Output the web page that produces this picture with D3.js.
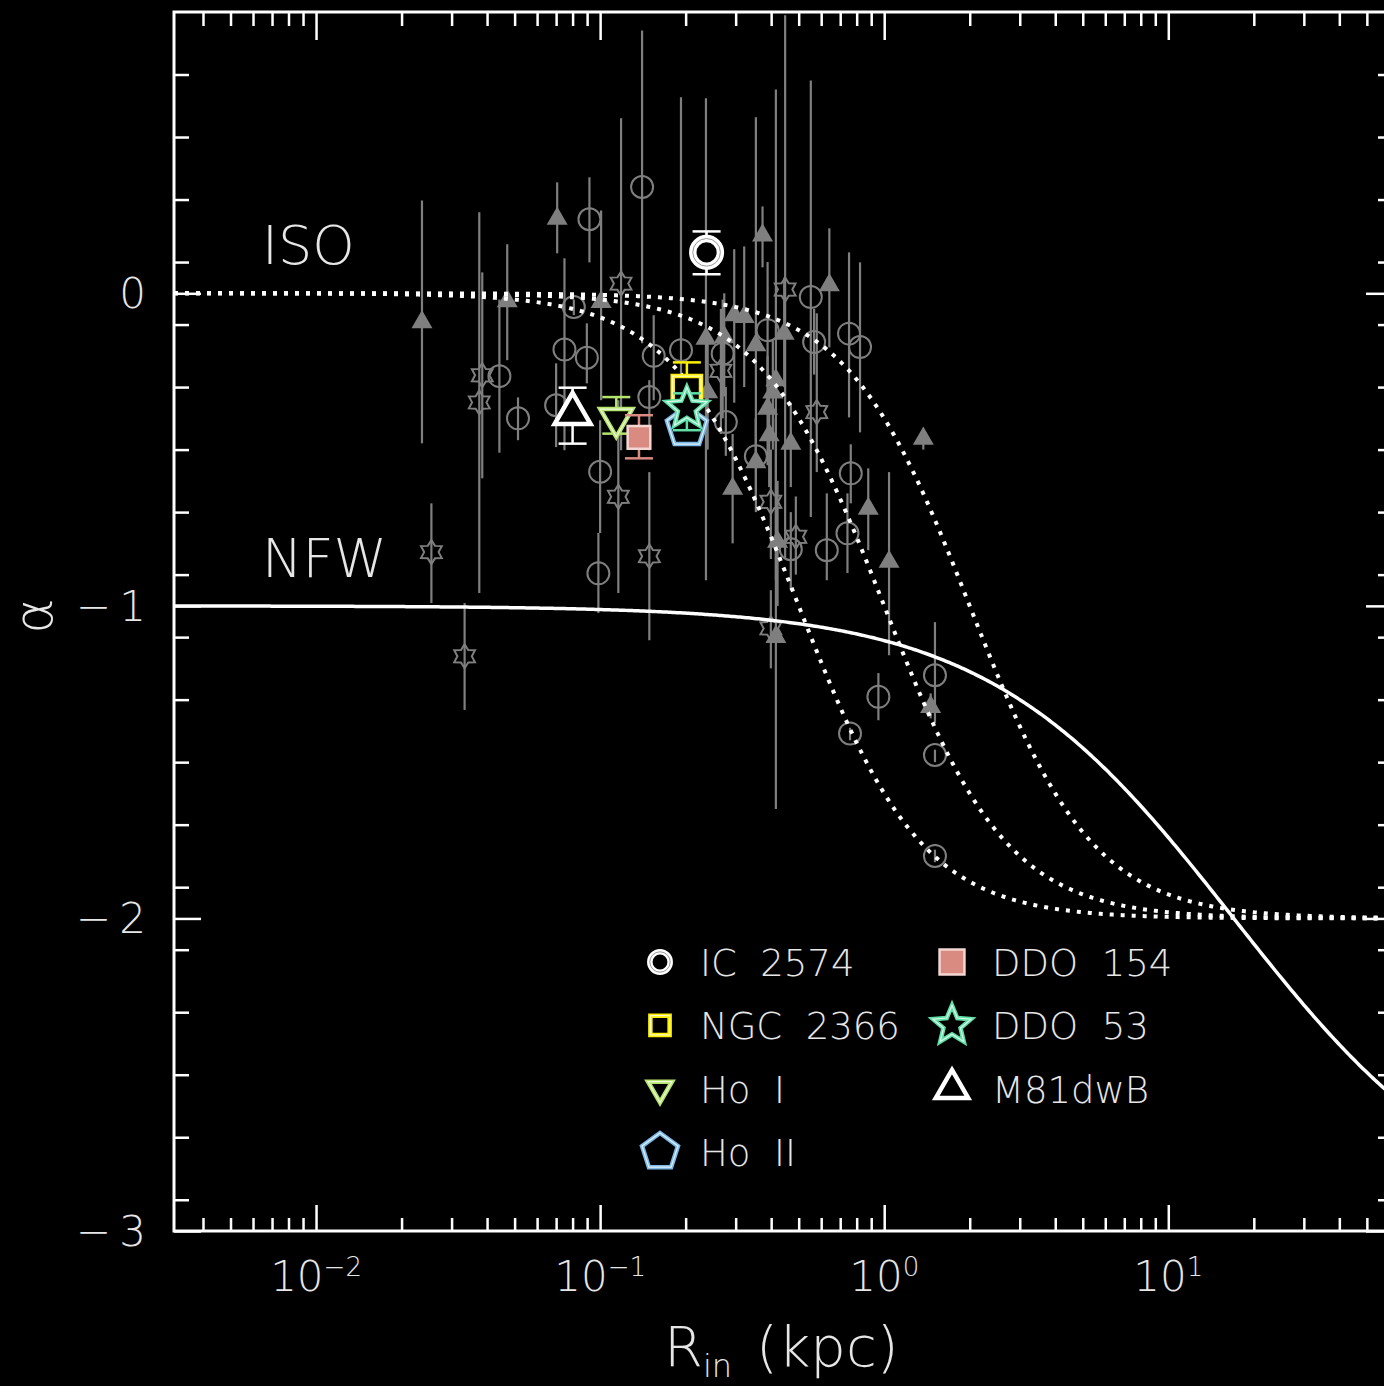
<!DOCTYPE html>
<html>
<head>
<meta charset="utf-8">
<script src="https://cdn.jsdelivr.net/npm/d3@7"></script>
<style>
  html, body { margin: 0; padding: 0; background: #000; }
  svg text { font-family: "DejaVu Sans", "Liberation Sans", sans-serif; font-weight: 200; fill: #e6e6e6; }
</style>
</head>
<body>
<div id="chart"></div>
<script>
// comparison sample, grey points: [R_in (kpc), alpha, bar top, bar bottom]
const greyCircles = [
    [0.0442, -0.265, -0.02, -0.51], [0.0514, -0.400, -0.333, -0.470], [0.0917, 0.237, 0.371, 0.099],
    [0.0808, -0.044, -0.02, -0.07], [0.0749, -0.180, 0.112, -0.502], [0.0898, -0.206, -0.096, -0.288],
    [0.0700, -0.358, -0.224, -0.492], [0.1405, 0.340, 0.841, -0.160], [0.1544, -0.200, -0.070, -0.342],
    [0.1926, -0.182, 0.627, -0.310], [0.149, -0.332, -0.278, -0.502], [0.100, -0.571, -0.406, -0.767],
    [0.0986, -0.896, -0.767, -1.023], [0.270, -0.193, -0.02, -0.40], [0.277, -0.412, -0.30, -0.52],
    [0.3886, -0.118, 0.10, -0.30], [0.5666, -0.156, -0.05, -0.26], [0.5516, -0.012, 0.681, -0.716],
    [0.752, -0.129, 0.131, -0.397], [0.822, -0.172, 0.099, -0.445], [0.3534, -0.521, -0.40, -0.65],
    [0.7626, -0.576, -0.483, -0.672], [0.7424, -0.768, -0.640, -0.895], [0.628, -0.822, -0.640, -0.918],
    [0.469, -0.819, -0.70, -0.95], [1.509, -1.222, -1.052, -1.375], [0.954, -1.291, -1.215, -1.366],
    [0.758, -1.408, -1.39, -1.43], [1.509, -1.477, -1.46, -1.50], [1.509, -1.800, -1.78, -1.82]
];
const greyTriangles = [
    [0.0236, -0.092, 0.297, -0.480], [0.0471, -0.025, 0.157, -0.214], [0.0706, 0.239, 0.355, 0.128],
    [0.1008, -0.028, 0.265, -0.342], [0.373, 0.185, 0.278, 0.083], [0.641, 0.026, 0.208, -0.173],
    [0.2965, -0.070, 0.141, -0.35], [0.3215, -0.076, 0.150, -0.30], [0.2358, -0.145, 0.624, -0.918],
    [0.2735, -0.140, 0.0, -0.33], [0.4445, -0.129, 0.05, -0.30], [0.3534, -0.166, 0.563, -0.55],
    [0.4156, -0.278, 0.652, -0.918], [0.4055, -0.317, -0.15, -0.50], [0.2391, -0.316, -0.15, -0.50],
    [0.3886, -0.369, -0.20, -0.55], [0.3937, -0.454, -0.30, -0.62], [0.469, -0.481, -0.35, -0.62],
    [0.3534, -0.540, -0.40, -0.70], [0.2927, -0.625, -0.45, -0.80], [0.8787, -0.689, -0.560, -0.822],
    [1.373, -0.465, -0.45, -0.50], [1.040, -0.859, -0.572, -1.158], [0.4213, -0.795, -0.60, -1.00],
    [0.4156, -1.099, -0.40, -1.65], [1.457, -1.323, -1.28, -1.36]
];
const greyStars = [
    [0.02547, -0.828, -0.672, -0.991], [0.03334, -1.161, -0.991, -1.333], [0.03847, -0.262, 0.067, -0.592],
    [0.03755, -0.349, 0.259, -0.959], [0.1185, 0.031, 0.56, -0.502], [0.1159, -0.651, -0.342, -0.959],
    [0.149, -0.841, -0.572, -1.110], [0.448, 0.012, 0.89, -0.85], [0.2662, -0.248, -0.05, -0.45],
    [0.579, -0.380, -0.064, -0.572], [0.399, -0.667, -0.50, -0.85], [0.4886, -0.779, -0.65, -0.90],
    [0.399, -1.072, -0.95, -1.20]
];

// THINGS dwarfs
const galaxyNames  = ["IC 2574", "NGC 2366", "Ho I", "Ho II", "DDO 154", "DDO 53", "M81dwB"];
const galaxyR      = [0.237, 0.202, 0.114, 0.202, 0.137, 0.202, 0.080];
const galaxyAlpha  = [0.131, -0.310, -0.400, -0.428, -0.461, -0.368, -0.385];
const galaxyTop    = [0.198, -0.221, -0.332, -0.400, -0.390, -0.320, -0.302];
const galaxyBottom = [0.061, -0.400, -0.449, -0.460, -0.528, -0.438, -0.481];

// model curves
const isoCoreRadii = [0.5, 1.0, 2.0];
const nfwScaleRadius = 17;

const xMajorTicks = [0.01, 0.1, 1, 10];
const xTickExponents = ["\u22122", "\u22121", "0", "1"];
const yMajorTicks = [0, -1, -2, -3];
const yTickLabels = ["0", "\u2212\u20091", "\u2212\u20092", "\u2212\u20093"];

var W = 1384, H = 1386;
var pLeft = 174, pRight = 1393, pTop = 12, pBottom = 1231;

var x = d3.scaleLog().domain([Math.pow(10, -2.5), Math.pow(10, 1.791)]).range([pLeft, pRight]);
var y = d3.scaleLinear().domain([-3, 0.9]).range([pBottom, pTop]);

var svg = d3.select("#chart").append("svg")
    .attr("width", W).attr("height", H)
    .style("background", "#000");

svg.append("clipPath").attr("id", "plot")
    .append("rect").attr("x", pLeft).attr("y", pTop).attr("width", pRight - pLeft).attr("height", pBottom - pTop);

var minorX = [];
[-3, -2, -1, 0, 1].forEach((e) => {
    for (var m = 2; m <= 9; m++) {
        var v = m * Math.pow(10, e);
        if (v > x.domain()[0] && v < x.domain()[1]) minorX.push(v);
    }
});
var minorY = d3.range(-29, 9, 2).map((d) => d / 10);

var tickStyle = (g) => {
    g.select(".domain").remove();
    g.selectAll("line").attr("stroke", "#fff").attr("stroke-width", 2.5);
};

// ticks, all pointing inward
svg.append("g").attr("transform", `translate(0,${pBottom})`)
    .call(d3.axisBottom(x).tickValues(xMajorTicks).tickSize(-26).tickFormat("")).call(tickStyle);
svg.append("g").attr("transform", `translate(0,${pBottom})`)
    .call(d3.axisBottom(x).tickValues(minorX).tickSize(-13).tickFormat("")).call(tickStyle);
svg.append("g").attr("transform", `translate(0,${pTop})`)
    .call(d3.axisTop(x).tickValues(xMajorTicks).tickSize(-28).tickFormat("")).call(tickStyle);
svg.append("g").attr("transform", `translate(0,${pTop})`)
    .call(d3.axisTop(x).tickValues(minorX).tickSize(-14).tickFormat("")).call(tickStyle);
svg.append("g").attr("transform", `translate(${pLeft},0)`)
    .call(d3.axisLeft(y).tickValues(yMajorTicks).tickSize(-27).tickFormat("")).call(tickStyle);
svg.append("g").attr("transform", `translate(${pLeft},0)`)
    .call(d3.axisLeft(y).tickValues(minorY).tickSize(-15).tickFormat("")).call(tickStyle);
svg.append("g").attr("transform", `translate(${pRight},0)`)
    .call(d3.axisRight(y).tickValues(yMajorTicks).tickSize(-27).tickFormat("")).call(tickStyle);
svg.append("g").attr("transform", `translate(${pRight},0)`)
    .call(d3.axisRight(y).tickValues(minorY).tickSize(-15).tickFormat("")).call(tickStyle);

svg.append("rect")
    .attr("x", pLeft).attr("y", pTop).attr("width", pRight - pLeft).attr("height", pBottom - pTop)
    .attr("fill", "none").attr("stroke", "#fff").attr("stroke-width", 3);

// tick labels
var xl = svg.append("g").selectAll("text").data(xMajorTicks).enter().append("text")
    .attr("x", (d) => x(d)).attr("y", 1291)
    .attr("text-anchor", "middle").style("font-size", "42px");
xl.append("tspan").text("10");
xl.append("tspan").attr("dy", -15).style("font-size", "26px").text((d, i) => xTickExponents[i]);

svg.append("g").selectAll("text").data(yMajorTicks).enter().append("text")
    .attr("x", 146).attr("y", (d) => y(d) + 15)
    .attr("text-anchor", "end").style("font-size", "42px")
    .text((d, i) => yTickLabels[i]);

// axis titles
var xt = svg.append("text").attr("x", 664).attr("y", 1366).style("font-size", "56px");
xt.append("tspan").text("R");
xt.append("tspan").attr("dy", 11).style("font-size", "32px").text("in");
xt.append("tspan").attr("dy", -11).attr("dx", 24).text("(kpc)");

svg.append("text").attr("transform", "translate(52,616) rotate(-90)")
    .attr("text-anchor", "middle").style("font-size", "54px").text("\u03b1");

// shapes
var polyPath = (n, r, ratio, rot) => {
    var pts = [];
    var k = ratio ? 2 * n : n;
    for (var i = 0; i < k; i++) {
        var rr = (ratio && i % 2 === 1) ? r * ratio : r;
        var a = -Math.PI / 2 + rot + i * 2 * Math.PI / k;
        pts.push([rr * Math.cos(a), rr * Math.sin(a)]);
    }
    return d3.line()(pts) + "Z";
};
var triPath = (side, down) => polyPath(3, side / Math.sqrt(3), 0, down ? Math.PI : 0);

var plot = svg.append("g").attr("clip-path", "url(#plot)");

// grey sample
var grey = "#7f7f7f";
var allGrey = greyCircles.concat(greyTriangles, greyStars);
plot.append("g").selectAll("line").data(allGrey).enter().append("line")
    .attr("x1", (d) => x(d[0])).attr("x2", (d) => x(d[0]))
    .attr("y1", (d) => y(d[2])).attr("y2", (d) => y(d[3]))
    .attr("stroke", grey).attr("stroke-width", 2.2);

plot.append("g").selectAll("circle").data(greyCircles).enter().append("circle")
    .attr("cx", (d) => x(d[0])).attr("cy", (d) => y(d[1])).attr("r", 11)
    .attr("fill", "none").attr("stroke", grey).attr("stroke-width", 2);

plot.append("g").selectAll("path").data(greyTriangles).enter().append("path")
    .attr("transform", (d) => `translate(${x(d[0])},${y(d[1])})`)
    .attr("d", triPath(21, false)).attr("fill", grey);

plot.append("g").selectAll("path").data(greyStars).enter().append("path")
    .attr("transform", (d) => `translate(${x(d[0])},${y(d[1])})`)
    .attr("d", polyPath(6, 12, 0.6, 0)).attr("fill", "none")
    .attr("stroke", grey).attr("stroke-width", 2);

// models
var radii = d3.range(0, 601).map((i) => Math.pow(10, -2.5 + i * 4.3 / 600));

var isoLine = (rc) => d3.line()
    .x((r) => x(r))
    .y((r) => y(-2 * (r / rc) * (r / rc) / (1 + (r / rc) * (r / rc))));

var nfwLine = d3.line()
    .x((r) => x(r))
    .y((r) => y(-(1 + 3 * r / nfwScaleRadius) / (1 + r / nfwScaleRadius)));

isoCoreRadii.forEach((rc) => {
    plot.append("path").datum(radii)
        .attr("fill", "none").attr("stroke", "#fff")
        .attr("stroke-width", 4).attr("stroke-dasharray", "4,7")
        .attr("d", isoLine(rc));
});

plot.append("path").datum(radii)
    .attr("fill", "none").attr("stroke", "#fff").attr("stroke-width", 3.5)
    .attr("d", nfwLine);

svg.append("text").attr("x", 262).attr("y", 264).style("font-size", "54px").text("ISO");
svg.append("text").attr("x", 262).attr("y", 577).style("font-size", "54px").text("NFW");

// galaxy markers
var galaxyStyle = {
    "IC 2574":  { shape: "ring", color: "#ffffff", size: 1.15, key: 0.85 },
    "NGC 2366": { shape: "square", color: "#fff000", size: 1.25, key: 0.85 },
    "Ho I":     { shape: "down", color: "#b4e46c", size: 1.0, key: 0.75 },
    "Ho II":    { shape: "pentagon", color: "#7cb9e8", size: 1.0, key: 0.9 },
    "DDO 154":  { shape: "filled", color: "#d98b82", size: 1.0, key: 1.1 },
    "DDO 53":   { shape: "star", color: "#5fe0a6", size: 1.0, key: 0.95 },
    "M81dwB":   { shape: "up", color: "#ffffff", size: 1.0, key: 0.9 }
};

var drawMarker = (g, name, s) => {
    var st = galaxyStyle[name];
    var c = st.color;
    if (st.shape === "ring") {
        g.append("circle").attr("r", 12 * s).attr("fill", "#000").attr("stroke", "#fff").attr("stroke-width", 6.5 * s);
        g.append("circle").attr("r", 12 * s).attr("fill", "none").attr("stroke", "#999").attr("stroke-width", 1);
        return;
    }
    var d;
    if (st.shape === "square") d = polyPath(4, 16 * s, 0, Math.PI / 4);
    if (st.shape === "filled") d = polyPath(4, 16 * s, 0, Math.PI / 4);
    if (st.shape === "down") d = triPath(32 * s, true);
    if (st.shape === "up") d = triPath(36 * s, false);
    if (st.shape === "pentagon") d = polyPath(5, 21 * s, 0, 0);
    if (st.shape === "star") d = polyPath(5, 21 * s, 0.45, 0);
    if (st.shape === "filled") {
        g.append("path").attr("d", d).attr("fill", c).attr("stroke", "#f3d6d2").attr("stroke-width", 2.5);
        return;
    }
    g.append("path").attr("d", d).attr("fill", "#000").attr("stroke", c).attr("stroke-width", 4.5);
    if (c !== "#ffffff") {
        g.append("path").attr("d", d).attr("fill", "none").attr("stroke", "#fff").attr("stroke-width", 1.2).attr("opacity", 0.8);
    }
};

var drawOrder = ["IC 2574", "M81dwB", "Ho I", "DDO 154", "NGC 2366", "Ho II", "DDO 53"];
drawOrder.forEach((name) => {
    var i = galaxyNames.indexOf(name);
    var c = galaxyStyle[name].color;
    var px = x(galaxyR[i]);
    var g = svg.append("g");
    g.append("line").attr("x1", px).attr("x2", px)
        .attr("y1", y(galaxyTop[i])).attr("y2", y(galaxyBottom[i]))
        .attr("stroke", c).attr("stroke-width", 2.5);
    [galaxyTop[i], galaxyBottom[i]].forEach((v) => {
        g.append("line").attr("x1", px - 14).attr("x2", px + 14)
            .attr("y1", y(v)).attr("y2", y(v))
            .attr("stroke", c).attr("stroke-width", 2.5);
    });
    var m = g.append("g").attr("transform", `translate(${px},${y(galaxyAlpha[i])})`);
    drawMarker(m, name, galaxyStyle[name].size);
});

// legend
galaxyNames.forEach((name, i) => {
    var col = i < 4 ? 0 : 1;
    var row = i < 4 ? i : i - 4;
    var lx = col === 0 ? 660 : 952;
    var ly = 962 + row * 63.3;
    var m = svg.append("g").attr("transform", `translate(${lx},${ly})`);
    drawMarker(m, name, galaxyStyle[name].key);
    svg.append("text").attr("x", lx + 40).attr("y", ly + 14)
        .style("font-size", "37px")
        .attr("xml:space", "preserve")
        .text(name.replace(" ", "  "));
});
</script>
</body>
</html>
